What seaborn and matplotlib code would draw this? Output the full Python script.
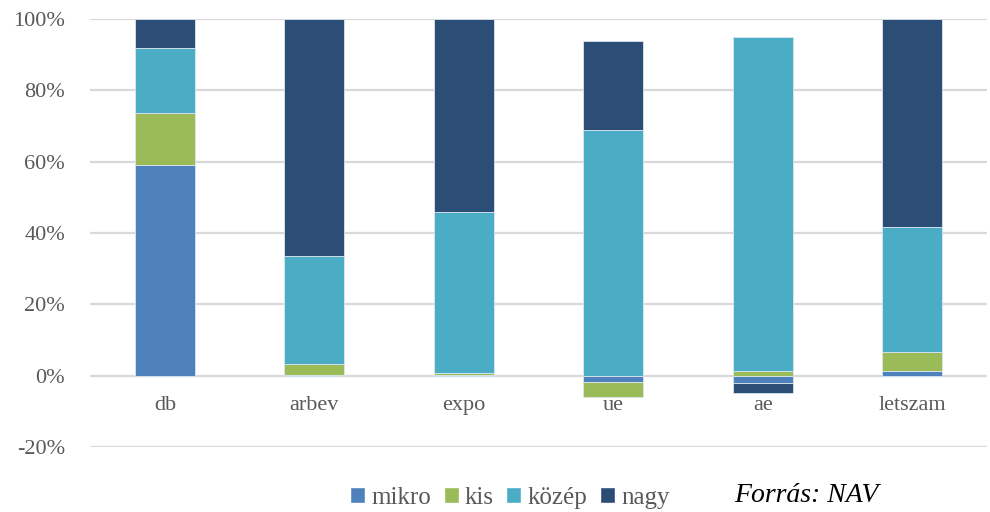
import numpy as np
import pandas as pd
import seaborn as sns
import matplotlib.pyplot as plt
from matplotlib.patches import Patch

categories = ['db', 'arbev', 'expo', 'ue', 'ae', 'letszam']
mikro = [59.1, 0.2, 0.1, -1.8, -2.0, 1.2]
kis = [14.6, 3.0, 0.7, -4.2, 1.4, 5.4]
kozep = [18.2, 30.4, 45.0, 68.9, 93.6, 35.1]
nagy = [8.1, 66.4, 54.2, 24.9, -3.0, 58.3]

series = {'mikro': mikro, 'kis': kis, 'közép': kozep, 'nagy': nagy}
colors = {'mikro': '#4F81BD', 'kis': '#9BBB59', 'közép': '#4BACC6', 'nagy': '#2C4D75'}

sns.set_style('white')
plt.rcParams['font.family'] = ['Liberation Serif', 'DejaVu Serif']

fig = plt.figure(figsize=(9.9, 5.12), dpi=100)
ax = fig.add_axes([0.091, 0.127, 0.906, 0.836])

pos_base = np.zeros(len(categories))
neg_base = np.zeros(len(categories))
for name, vals in series.items():
    vals = np.array(vals)
    bottom = np.where(vals >= 0, pos_base, neg_base)
    df = pd.DataFrame({'cat': categories, 'val': vals})
    sns.barplot(data=df, x='cat', y='val', bottom=bottom, color=colors[name],
                saturation=1, width=0.4, edgecolor='#dbe7f0', linewidth=0.6,
                errorbar=None, ax=ax, zorder=3)
    pos_base = pos_base + np.where(vals >= 0, vals, 0)
    neg_base = neg_base + np.where(vals < 0, vals, 0)

ax.set_ylim(-20, 100)
ax.set_xlim(-0.5, len(categories) - 0.5)
ax.set_yticks(range(-20, 101, 20))
ax.set_yticklabels([f'{t}%' for t in range(-20, 101, 20)])
ax.yaxis.grid(True, color='#d9d9d9', linewidth=1.6, zorder=0)
ax.set_axisbelow(True)
for s in ax.spines.values():
    s.set_visible(False)
ax.set_xlabel('')
ax.set_ylabel('')
ax.tick_params(axis='y', labelsize=16, labelcolor='#595959', length=0, pad=18)
ax.set_xticks(range(len(categories)))
ax.set_xticklabels([])
ax.tick_params(axis='x', length=0)
# category labels sit below the 0% line, under the negative parts
for i, cat in enumerate(categories):
    ax.text(i, -5.6, cat, ha='center', va='top', fontsize=16, color='#595959')

handles = [Patch(facecolor=colors[n], label=n) for n in series]
fig.legend(handles=handles, loc='center', bbox_to_anchor=(0.515, 0.028), ncol=4,
           frameon=False, fontsize=18, labelcolor='#595959', handlelength=0.6,
           handleheight=0.6, handletextpad=0.25, columnspacing=0.5)
fig.text(0.742, 0.033, 'Forrás: NAV', fontsize=20, style='italic', va='center', color='black')

fig.savefig('out.png', dpi=100)
